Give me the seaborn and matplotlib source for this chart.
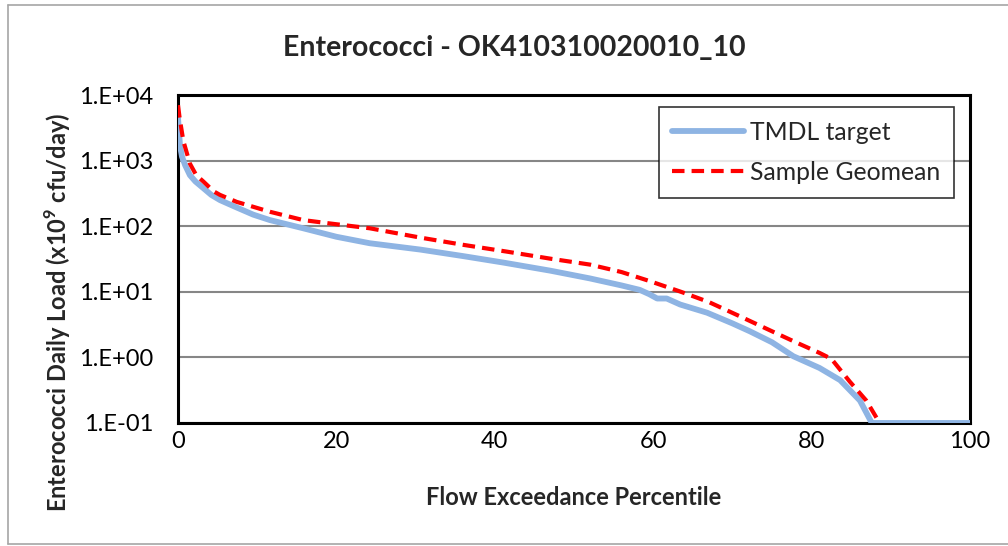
import numpy as np
import pandas as pd
import matplotlib
matplotlib.use("Agg")
import matplotlib.pyplot as plt
from matplotlib.lines import Line2D
from matplotlib.ticker import FixedLocator, FuncFormatter, NullLocator
import seaborn as sns

# flow exceedance percentile vs load (x10^9 cfu/day)
tmdl_pct = [0, 0.25, 0.5, 0.9, 1.5, 2.2, 3.2, 4.2, 5.3, 7.4, 9.5, 11.6, 15.8, 20,
            24.2, 30.6, 36, 41, 47, 52, 56, 58.3, 59.5, 60.5, 61.7, 63.4, 66.8,
            70, 72.2, 75, 77.7, 81, 83.6, 86.1, 87.6, 100]
tmdl_load = [4500, 1700, 1150, 850, 600, 480, 380, 300, 250, 193, 150, 124, 93, 69,
             55, 44, 35, 28, 21, 16, 12.5, 10.7, 9.2, 7.9, 7.9, 6.4, 4.8,
             3.3, 2.5, 1.7, 1.04, 0.69, 0.45, 0.22, 0.1, 0.1]

geo_pct = [0, 0.2, 0.67, 1.5, 2.3, 3.2, 4.5, 5.3, 7.4, 11.6, 15.8, 19.2, 24.2,
           30.6, 36, 41.5, 47, 52, 56, 59.6, 63.5, 67, 71, 75, 78, 81, 82.5,
           84.8, 86.9, 88.2, 88.4]
geo_load = [7000, 4500, 2000, 900, 600, 480, 340, 300, 235, 166, 124, 110, 93,
            67, 52, 41, 32, 26, 20, 14.5, 10, 7, 4.2, 2.5, 1.7, 1.17, 0.95,
            0.43, 0.22, 0.12, 0.1]

y_ticks = [0.1, 1, 10, 100, 1000, 10000]
x_ticks = [0, 20, 40, 60, 80, 100]

sns.set_style("white")
plt.rcParams['font.family'] = ['Lato', 'DejaVu Sans']
plt.rcParams['mathtext.fontset'] = 'custom'
plt.rcParams['mathtext.rm'] = 'Lato'
plt.rcParams['mathtext.bf'] = 'Lato:bold'

fig, ax = plt.subplots(figsize=(10.08, 5.46), dpi=100)
fig.subplots_adjust(left=0.1766, right=0.9623, bottom=0.2253, top=0.826)

tmdl = pd.DataFrame({'pct': tmdl_pct, 'load': tmdl_load})
geo = pd.DataFrame({'pct': geo_pct, 'load': geo_load})

sns.lineplot(data=tmdl, x='pct', y='load', ax=ax, color='#8EB4E3', lw=4.2,
             label='TMDL target', solid_capstyle='round', solid_joinstyle='round',
             zorder=3)
sns.lineplot(data=geo, x='pct', y='load', ax=ax, color='#FF0000', lw=3.0,
             label='Sample Geomean', zorder=4)
ax.lines[1].set_dashes([3.0, 1.7])
ax.lines[1].set_dash_capstyle('butt')

ax.set_yscale('log')
ax.set_ylim(0.1, 10000)
ax.set_xlim(0, 100)
ax.yaxis.set_major_locator(FixedLocator(y_ticks))
ax.yaxis.set_minor_locator(NullLocator())
ax.yaxis.set_major_formatter(FuncFormatter(lambda v, p: f"1.E{int(round(np.log10(v))):+03d}"))
ax.xaxis.set_major_locator(FixedLocator(x_ticks))

ax.grid(axis='y', color='#868686', lw=1.5)
ax.grid(axis='x', visible=False)
ax.tick_params(axis='both', length=0, labelsize=17, colors='black')
ax.tick_params(axis='y', pad=18)
ax.tick_params(axis='x', pad=6)

for s in ax.spines.values():
    s.set_color('black')
    s.set_linewidth(2.2)
    s.set_visible(True)

ax.set_xlabel('Flow Exceedance Percentile', fontsize=17, fontweight='bold', labelpad=24)
ax.set_ylabel(r'Enterococci Daily Load (x10$^{\mathbf{9}}$ cfu/day)', fontsize=17,
              fontweight='bold')
ax.yaxis.set_label_coords(-0.132, 0.338)
fig.text(0.51, 0.913, 'Enterococci - OK410310020010_10', fontsize=20.5,
         fontweight='bold', ha='center', va='center')

leg = ax.legend(loc='upper right', bbox_to_anchor=(0.98, 0.963), borderaxespad=0,
                fontsize=17.8, frameon=True, fancybox=False, edgecolor='black',
                handlelength=2.9, labelspacing=0.7, borderpad=0.55, handletextpad=0.25)
leg.get_frame().set_linewidth(1.2)

# outer chart border
for xs, ys in [([7.5 / 1008, 7.5 / 1008], [1 - 544 / 546, 1 - 4.5 / 546]),
               ([7.5 / 1008, 1.0], [1 - 4.5 / 546, 1 - 4.5 / 546]),
               ([7.5 / 1008, 1.0], [1 - 544 / 546, 1 - 544 / 546])]:
    fig.add_artist(Line2D(xs, ys, color='#A6A6A6', lw=1.2))

fig.savefig('out.png', dpi=100)
